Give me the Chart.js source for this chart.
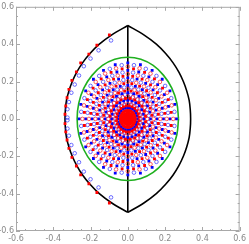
<!DOCTYPE html>
<html>
<head>
<meta charset="utf-8">
<script src="https://cdn.jsdelivr.net/npm/chart.js@4.4.0/dist/chart.umd.min.js"></script>
<style>
  body { margin: 0; background: #fff; }
  #wrap { width: 249px; height: 244px; }
</style>
</head>
<body>
<div id="wrap"><canvas id="lensChart" width="249" height="244"></canvas></div>
<script>
// ticks
const majorTicks = [-0.6, -0.4, -0.2, 0, 0.2, 0.4, 0.6];
const minorTicks = [-0.55, -0.5, -0.45, -0.35, -0.3, -0.25, -0.15, -0.1, -0.05,
                    0.05, 0.1, 0.15, 0.25, 0.3, 0.35, 0.45, 0.5, 0.55];

// black lens outline (right arc, left arc is its mirror)
const lensY      = [0.5, 0.45, 0.4, 0.35, 0.3, 0.25, 0.2, 0.15, 0.1, 0.05, 0, -0.05, -0.1, -0.15, -0.2, -0.25, -0.3, -0.35, -0.4, -0.45, -0.5];
const lensRightX = [0, 0.086, 0.153, 0.203, 0.243, 0.274, 0.298, 0.316, 0.329, 0.335, 0.337, 0.335, 0.329, 0.316, 0.298, 0.274, 0.243, 0.203, 0.153, 0.086, 0];
const lensLeftX  = [0, -0.086, -0.153, -0.203, -0.243, -0.274, -0.298, -0.316, -0.329, -0.335, -0.337, -0.335, -0.329, -0.316, -0.298, -0.274, -0.243, -0.203, -0.153, -0.086, 0];

// green ellipse
const ellipseX = [0.272, 0.263, 0.236, 0.192, 0.136, 0.070, 0, -0.070, -0.136, -0.192, -0.236, -0.263, -0.272,
                  -0.263, -0.236, -0.192, -0.136, -0.070, 0, 0.070, 0.136, 0.192, 0.236, 0.263, 0.272];
const ellipseY = [0, 0.085, 0.165, 0.233, 0.286, 0.319, 0.33, 0.319, 0.286, 0.233, 0.165, 0.085, 0,
                  -0.085, -0.165, -0.233, -0.286, -0.319, -0.33, -0.319, -0.286, -0.233, -0.165, -0.085, 0];

// points along the left edge
const edgeRedX = [-0.099, -0.166, -0.209, -0.253, -0.276, -0.300, -0.316, -0.326, -0.333, -0.337,
                  -0.337, -0.333, -0.326, -0.316, -0.300, -0.276, -0.253, -0.209, -0.166, -0.099];
const edgeRedY = [0.450, 0.394, 0.347, 0.300, 0.252, 0.206, 0.158, 0.113, 0.069, 0.025,
                  -0.025, -0.069, -0.113, -0.158, -0.206, -0.252, -0.300, -0.347, -0.394, -0.450];
const edgeBlueX = [-0.090, -0.157, -0.200, -0.236, -0.262, -0.285, -0.303, -0.316, -0.324, -0.324,
                   -0.324, -0.324, -0.316, -0.303, -0.285, -0.262, -0.236, -0.200, -0.157, -0.090];
const edgeBlueY = [0.420, 0.367, 0.323, 0.282, 0.232, 0.184, 0.140, 0.090, 0.052, 0.007,
                   -0.007, -0.052, -0.090, -0.140, -0.184, -0.232, -0.282, -0.323, -0.367, -0.420];

// radial field inside the ellipse: two kinds of rays, directions in degrees
// ray A: blue squares with red rings between, ray B: red squares with blue rings between
const rayAAngles = [0, 15, 30, 45, 60, 75, 90, 105, 120, 135, 150, 165,
                    180, 195, 210, 225, 240, 255, 270, 285, 300, 315, 330, 345];
const rayBAngles = [7.5, 22.5, 37.5, 52.5, 67.5, 82.5, 97.5, 112.5, 127.5, 142.5, 157.5, 172.5,
                    187.5, 202.5, 217.5, 232.5, 247.5, 262.5, 277.5, 292.5, 307.5, 322.5, 337.5, 352.5];
const blueFilledRadii = [0.06, 0.10, 0.14, 0.18, 0.22, 0.26, 0.30];
const redHollowRadii  = [0.04, 0.08, 0.12, 0.16, 0.20, 0.24, 0.28];
const redFilledRadii  = [0.01, 0.02, 0.03, 0.045, 0.07, 0.11, 0.15, 0.19, 0.23, 0.27];
const blueHollowRadii = [0.055, 0.09, 0.13, 0.17, 0.21, 0.25, 0.29];
const fieldAspect = 0.87; // field is narrower in x

function zipXY(xs, ys) {
  return xs.map((x, i) => ({ x: x, y: ys[i] }));
}

function rayPoints(angles, radii) {
  const pts = [];
  angles.forEach(a => {
    const t = a * Math.PI / 180;
    radii.forEach(r => pts.push({ x: r * fieldAspect * Math.cos(t), y: r * Math.sin(t) }));
  });
  return pts;
}

const RED = '#ff0000';
const BLUE = '#0000ff';

function filledSet(data, color) {
  return { data: data, showLine: false, pointStyle: 'rect', pointRadius: 2,
           backgroundColor: color, borderColor: color, borderWidth: 0, order: 0 };
}
function hollowSet(data, color) {
  return { data: data, showLine: false, pointStyle: 'circle', pointRadius: 1.8,
           backgroundColor: 'rgba(255,255,255,0)', borderColor: color, borderWidth: 0.9, order: 0 };
}
function curveSet(data, color, tension) {
  return { data: data, showLine: true, pointRadius: 0, borderColor: color,
           borderWidth: 1.6, tension: tension, fill: false, order: 1 };
}

// frame with inward ticks on all sides
const frameTicks = {
  id: 'frameTicks',
  beforeDatasetsDraw(chart) {
    const ctx = chart.ctx;
    const a = chart.chartArea;
    const xs = chart.scales.x, ys = chart.scales.y;
    ctx.save();
    ctx.strokeStyle = '#a8a8a8';
    ctx.lineWidth = 1;
    ctx.strokeRect(a.left + 0.5, a.top + 0.5, a.right - a.left - 1, a.bottom - a.top - 1);
    ctx.beginPath();
    const all = majorTicks.concat(minorTicks);
    all.forEach(v => {
      const len = majorTicks.includes(v) ? 4 : 2;
      const px = Math.round(xs.getPixelForValue(v)) + 0.5;
      ctx.moveTo(px, a.bottom); ctx.lineTo(px, a.bottom - len);
      ctx.moveTo(px, a.top); ctx.lineTo(px, a.top + len);
      const py = Math.round(ys.getPixelForValue(v)) + 0.5;
      ctx.moveTo(a.left, py); ctx.lineTo(a.left + len, py);
      ctx.moveTo(a.right, py); ctx.lineTo(a.right - len, py);
    });
    ctx.stroke();
    ctx.restore();
  }
};

const tickFont = { family: 'DejaVu Sans', size: 8 };

const ctx = document.getElementById('lensChart').getContext('2d');
const lensChart = new Chart(ctx, {
  type: 'scatter',
  data: {
    datasets: [
      filledSet(rayPoints(rayBAngles, redFilledRadii), RED),
      hollowSet(rayPoints(rayAAngles, redHollowRadii), 'rgba(255,30,30,0.8)'),
      filledSet(rayPoints(rayAAngles, blueFilledRadii), BLUE),
      hollowSet(rayPoints(rayBAngles, blueHollowRadii), 'rgba(40,40,255,0.75)'),
      filledSet(zipXY(edgeRedX, edgeRedY), RED),
      hollowSet(zipXY(edgeBlueX, edgeBlueY), 'rgba(40,40,255,0.75)'),
      curveSet(zipXY(ellipseX, ellipseY), '#1fb01f', 0.4),
      curveSet(zipXY(lensRightX, lensY), '#000000', 0.3),
      curveSet(zipXY(lensLeftX, lensY), '#000000', 0.3),
      curveSet([{ x: 0, y: 0.5 }, { x: 0, y: -0.5 }], '#000000', 0)
    ]
  },
  options: {
    responsive: false,
    animation: false,
    devicePixelRatio: 1,
    layout: { padding: { top: 5, right: 8, left: 0, bottom: 0 } },
    plugins: { legend: { display: false }, tooltip: { enabled: false } },
    scales: {
      x: {
        type: 'linear', min: -0.6, max: 0.6,
        grid: { display: false, drawTicks: false }, border: { display: false },
        afterBuildTicks: s => { s.ticks = majorTicks.map(v => ({ value: v })); },
        afterFit: s => { s.height = 13; },
        ticks: { padding: 3, maxRotation: 0, autoSkip: false, color: '#888888', font: tickFont,
                 callback: v => Number(v).toFixed(1) }
      },
      y: {
        type: 'linear', min: -0.6, max: 0.6,
        grid: { display: false, drawTicks: false }, border: { display: false },
        afterBuildTicks: s => { s.ticks = majorTicks.map(v => ({ value: v })); },
        afterFit: s => { s.width = 16; },
        ticks: { padding: 2, autoSkip: false, color: '#888888', font: tickFont,
                 callback: v => Number(v).toFixed(1) }
      }
    }
  },
  plugins: [frameTicks]
});
</script>
</body>
</html>
